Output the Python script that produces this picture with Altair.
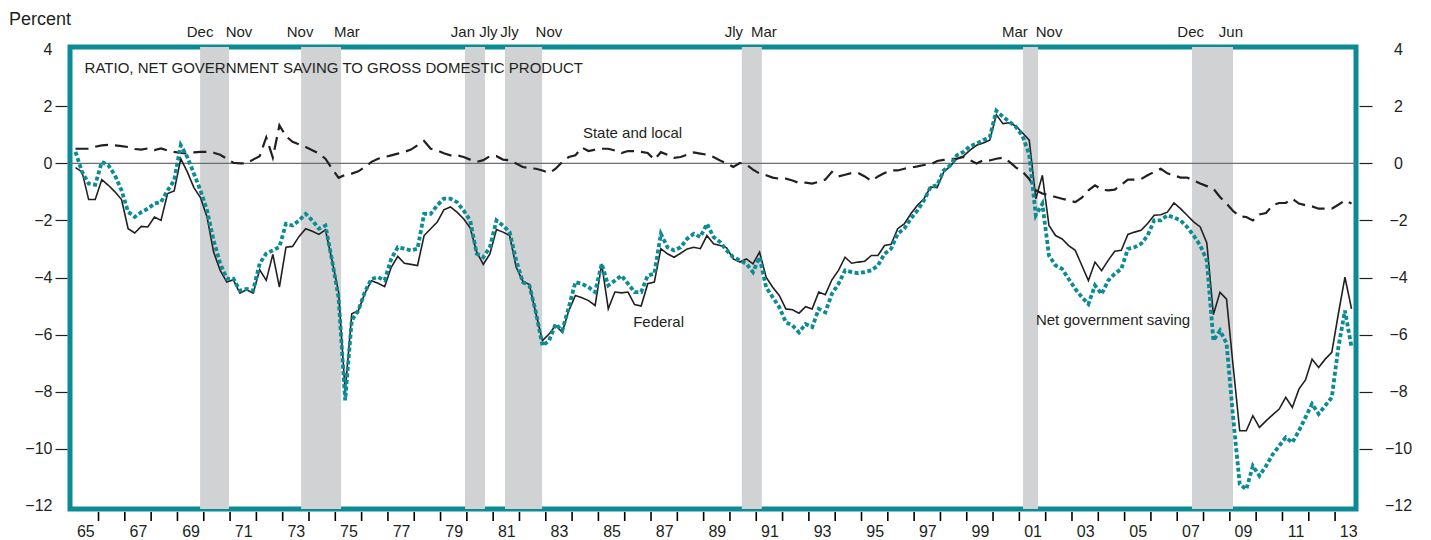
import altair as alt
import pandas as pd

# ---------------- data (quarterly, 1965Q1 - 2013Q3), percent of GDP ----------------
federal = [
    -0.15, -0.30, -1.27, -1.27,   # 1965
    -0.57, -0.77, -1.00, -1.27,   # 1966
    -2.29, -2.44, -2.21, -2.23,   # 1967
    -1.88, -2.00, -1.06, -0.97,   # 1968
    0.16, -0.30, -0.85, -1.20,    # 1969
    -1.88, -3.11, -3.75, -4.16,   # 1970
    -4.08, -4.55, -4.43, -4.55,   # 1971
    -3.73, -4.10, -3.19, -4.34,   # 1972
    -2.94, -2.91, -2.56, -2.29,   # 1973
    -2.38, -2.49, -2.33, -3.40,   # 1974
    -4.51, -8.02, -5.27, -5.16,   # 1975
    -4.55, -4.11, -4.20, -4.32,   # 1976
    -3.64, -3.26, -3.50, -3.54,   # 1977
    -3.58, -2.53, -2.29, -2.06,   # 1978
    -1.63, -1.53, -1.71, -1.94,   # 1979
    -2.26, -3.11, -3.54, -3.17,   # 1980
    -2.32, -2.41, -2.53, -3.64,   # 1981
    -4.13, -4.25, -5.27, -6.21,   # 1982
    -5.98, -5.68, -5.92, -5.16,   # 1983
    -4.63, -4.71, -4.81, -4.98,   # 1984
    -3.52, -5.10, -4.51, -4.54,   # 1985
    -4.51, -4.95, -5.00, -4.22,   # 1986
    -4.16, -2.99, -3.17, -3.29,   # 1987
    -3.15, -3.00, -2.94, -2.99,   # 1988
    -2.53, -2.82, -2.88, -2.96,   # 1989
    -3.35, -3.46, -3.35, -3.52,   # 1990
    -3.11, -3.99, -4.34, -4.63,   # 1991
    -5.10, -5.13, -5.25, -5.02,   # 1992
    -5.10, -4.51, -4.60, -4.08,   # 1993
    -3.75, -3.29, -3.50, -3.46,   # 1994
    -3.43, -3.23, -3.23, -2.88,   # 1995
    -2.84, -2.29, -2.12, -1.77,   # 1996
    -1.47, -1.24, -0.83, -0.85,   # 1997
    -0.30, -0.10, 0.16, 0.25,     # 1998
    0.46, 0.63, 0.71, 0.81,       # 1999
    1.70, 1.39, 1.42, 1.30,       # 2000
    1.06, 0.81, -1.24, -0.42,     # 2001
    -2.18, -2.53, -2.65, -2.88,   # 2002
    -3.05, -3.58, -4.11, -3.46,   # 2003
    -3.76, -3.40, -3.08, -3.05,   # 2004
    -2.49, -2.41, -2.35, -2.11,   # 2005
    -1.82, -1.80, -1.71, -1.39,   # 2006
    -1.59, -1.82, -2.05, -2.23,   # 2007
    -2.79, -5.30, -4.52, -4.76,   # 2008
    -7.10, -9.37, -9.37, -8.84,   # 2009
    -9.25, -9.02, -8.81, -8.61,   # 2010
    -8.20, -8.55, -7.91, -7.59,   # 2011
    -6.86, -7.15, -6.86, -6.62,   # 2012
    -5.27, -3.99, -5.10,          # 2013
]

state_local = [
    0.51, 0.51, 0.51, 0.58,       # 1965
    0.63, 0.65, 0.63, 0.60,       # 1966
    0.57, 0.50, 0.48, 0.52,       # 1967
    0.46, 0.52, 0.45, 0.40,       # 1968
    0.36, 0.34, 0.38, 0.40,       # 1969
    0.40, 0.37, 0.30, 0.16,       # 1970
    0.02, 0.00, 0.00, 0.13,       # 1971
    0.25, 0.91, 0.20, 1.33,       # 1972
    0.95, 0.75, 0.66, 0.57,       # 1973
    0.46, 0.34, 0.16, -0.19,      # 1974
    -0.51, -0.40, -0.36, -0.28,   # 1975
    -0.13, 0.05, 0.16, 0.22,      # 1976
    0.28, 0.34, 0.40, 0.48,       # 1977
    0.63, 0.78, 0.51, 0.45,       # 1978
    0.35, 0.28, 0.28, 0.22,       # 1979
    0.13, 0.05, 0.11, 0.25,       # 1980
    0.25, 0.13, 0.11, -0.01,      # 1981
    -0.13, -0.17, -0.19, -0.25,   # 1982
    -0.34, -0.19, 0.05, 0.22,     # 1983
    0.28, 0.55, 0.43, 0.48,       # 1984
    0.51, 0.51, 0.45, 0.36,       # 1985
    0.43, 0.43, 0.40, 0.36,       # 1986
    0.13, 0.39, 0.30, 0.19,       # 1987
    0.22, 0.30, 0.38, 0.34,       # 1988
    0.30, 0.22, 0.10, 0.00,       # 1989
    -0.13, 0.01, -0.05, -0.22,    # 1990
    -0.36, -0.42, -0.50, -0.54,   # 1991
    -0.54, -0.60, -0.69, -0.68,   # 1992
    -0.71, -0.65, -0.57, -0.30,   # 1993
    -0.46, -0.40, -0.34, -0.34,   # 1994
    -0.46, -0.62, -0.46, -0.34,   # 1995
    -0.25, -0.25, -0.19, -0.15,   # 1996
    -0.11, -0.06, -0.04, 0.08,    # 1997
    0.12, 0.16, 0.16, 0.22,       # 1998
    0.11, -0.01, 0.11, 0.10,      # 1999
    0.16, 0.20, 0.05, -0.15,      # 2000
    -0.30, -0.55, -0.95, -1.06,   # 2001
    -1.12, -1.18, -1.24, -1.30,   # 2002
    -1.36, -1.20, -0.95, -0.77,   # 2003
    -0.92, -0.95, -0.92, -0.75,   # 2004
    -0.57, -0.57, -0.55, -0.42,   # 2005
    -0.30, -0.19, -0.35, -0.42,   # 2006
    -0.50, -0.50, -0.60, -0.71,   # 2007
    -0.80, -0.89, -1.18, -1.41,   # 2008
    -1.67, -1.86, -1.88, -2.00,   # 2009
    -1.79, -1.74, -1.47, -1.39,   # 2010
    -1.39, -1.24, -1.41, -1.47,   # 2011
    -1.51, -1.59, -1.59, -1.59,   # 2012
    -1.45, -1.30, -1.41,          # 2013
]

net_saving = [
    0.40, -0.30, -0.71, -0.75,    # 1965
    0.05, -0.07, -0.42, -0.95,    # 1966
    -1.70, -1.88, -1.71, -1.59,   # 1967
    -1.41, -1.36, -0.95, -0.60,   # 1968
    0.63, 0.22, -0.36, -0.95,     # 1969
    -1.65, -2.70, -3.51, -4.04,   # 1970
    -4.04, -4.46, -4.40, -4.46,   # 1971
    -3.51, -3.16, -3.05, -2.93,   # 1972
    -2.12, -2.18, -2.00, -1.77,   # 1973
    -2.00, -2.29, -2.18, -3.40,   # 1974
    -4.70, -8.30, -5.50, -5.16,   # 1975
    -4.50, -4.05, -3.99, -4.10,   # 1976
    -3.35, -2.94, -2.99, -3.05,   # 1977
    -2.99, -1.77, -1.77, -1.47,   # 1978
    -1.24, -1.24, -1.36, -1.65,   # 1979
    -2.00, -3.17, -3.29, -2.94,   # 1980
    -2.00, -2.18, -2.41, -3.40,   # 1981
    -4.16, -4.28, -5.22, -6.39,   # 1982
    -6.21, -5.63, -5.86, -5.04,   # 1983
    -4.16, -4.22, -4.34, -4.51,   # 1984
    -3.52, -4.28, -4.11, -3.93,   # 1985
    -4.22, -4.51, -4.51, -3.93,   # 1986
    -3.87, -2.47, -2.94, -3.05,   # 1987
    -2.94, -2.64, -2.47, -2.58,   # 1988
    -2.12, -2.58, -2.76, -3.05,   # 1989
    -3.29, -3.40, -3.52, -3.81,   # 1990
    -3.29, -4.34, -4.69, -5.04,   # 1991
    -5.57, -5.68, -5.92, -5.63,   # 1992
    -5.74, -5.10, -5.22, -4.57,   # 1993
    -4.22, -3.75, -3.81, -3.85,   # 1994
    -3.81, -3.75, -3.58, -3.17,   # 1995
    -2.99, -2.47, -2.29, -1.94,   # 1996
    -1.65, -1.30, -0.83, -0.77,   # 1997
    -0.25, -0.07, 0.28, 0.40,     # 1998
    0.60, 0.69, 0.81, 0.92,       # 1999
    1.84, 1.63, 1.45, 1.27,       # 2000
    0.95, 0.30, -1.82, -1.42,     # 2001
    -3.23, -3.58, -3.70, -4.05,   # 2002
    -4.40, -4.69, -4.93, -4.28,   # 2003
    -4.58, -4.11, -3.87, -3.70,   # 2004
    -3.00, -2.94, -2.82, -2.53,   # 2005
    -2.00, -2.00, -1.82, -1.90,   # 2006
    -2.00, -2.23, -2.53, -2.88,   # 2007
    -3.40, -6.21, -5.86, -6.30,   # 2008
    -8.90, -11.24, -11.42, -10.60,  # 2009
    -10.95, -10.60, -10.20, -9.90,  # 2010
    -9.60, -9.78, -9.37, -8.90,   # 2011
    -8.43, -8.78, -8.49, -8.20,   # 2012
    -6.44, -5.16, -6.44,          # 2013
]

# recession shading (decimal years as drawn) and month labels above the frame
rec_start = [1969.86, 1973.70, 1979.93, 1981.45, 1990.45, 2001.14, 2007.56]
rec_end = [1970.96, 1975.22, 1980.69, 1982.86, 1991.21, 2001.71, 2009.12]
month_labels = ["Dec", "Nov", "Nov", "Mar", "Jan", "Jly", "Jly", "Nov",
                "Jly", "Mar", "Mar", "Nov", "Dec", "Jun"]
month_label_x = [1969.86, 1971.34, 1973.66, 1975.44, 1979.85, 1980.82, 1981.62,
                 1983.12, 1990.15, 1991.29, 2000.83, 2002.13, 2007.51, 2009.04]

y_ticks = [4, 2, 0, -2, -4, -6, -8, -10, -12]
x_year_ticks = list(range(1966, 2014))
x_label_pos = [y + 0.5 for y in range(1965, 2014, 2)]

series_labels = ["State and local", "Federal", "Net government saving"]
series_label_x = [1984.41, 1986.32, 2001.63]
series_label_y = [0.89, -5.73, -5.66]

# ---------------- build tables ----------------
quarter_t = [1965 + (i + 0.5) / 4 for i in range(len(federal))]
df = pd.DataFrame({"t": quarter_t, "federal": federal,
                   "state": state_local, "net": net_saving})
df_rec = pd.DataFrame({"start": rec_start, "end": rec_end})
df_mon = pd.DataFrame({"x": month_label_x, "label": month_labels})
df_lab = pd.DataFrame({"x": series_label_x, "y": series_label_y, "label": series_labels})
df_zero = pd.DataFrame({"y": [0]})
df_yt = pd.DataFrame({"yr": x_year_ticks})
df_title = pd.DataFrame({"x": [1965.47], "y": [3.16],
                         "label": ["RATIO, NET GOVERNMENT SAVING TO GROSS DOMESTIC PRODUCT"]})

TEAL = "#0b8b95"
INK = "#231f20"
FONT = "Liberation Sans"
PLOT_H = 462

xscale = alt.Scale(domain=[1964.916, 2013.795], nice=False, zero=False)
yscale = alt.Scale(domain=[-12.109, 4.074], nice=False, zero=False)

y_tick_op = {"condition": {"test": "datum.value == 4 || datum.value == -12", "value": 0}, "value": 1}

# two-digit year labels centred in odd years (axis ticks hidden; year ticks drawn as rules)
x_label_axis = alt.Axis(values=x_label_pos, orient="bottom", offset=3, tickSize=8,
                        tickOpacity=0,
                        labelExpr="slice('0' + (floor(datum.value) % 100), -2)",
                        labelPadding=3, labelFontSize=16, labelFont=FONT, labelColor=INK,
                        labelOverlap=False, labelFlush=False, domain=False, grid=False, title=None)
left_axis = alt.Axis(values=y_ticks, orient="left", offset=3, tickSize=12, tickWidth=1.2,
                     tickColor=INK, tickOpacity=y_tick_op, format="d",
                     labelPadding=3, labelFontSize=16, labelFont=FONT, labelColor=INK,
                     labelOverlap=False, labelFlush=False, domain=False, grid=False, title=None)
right_axis = alt.Axis(values=y_ticks, orient="right", offset=3, tickSize=13, tickWidth=1.2,
                      tickColor=INK, tickOpacity=y_tick_op, format="d",
                      labelPadding=26, labelAlign="center", labelFontSize=16, labelFont=FONT,
                      labelColor=INK, labelOverlap=False, labelFlush=False,
                      domain=False, grid=False, title=None)

bands = alt.Chart(df_rec).mark_rect(color="#d1d2d4").encode(
    x=alt.X("start:Q", scale=xscale, axis=None), x2="end:Q")

zero = alt.Chart(df_zero).mark_rule(color="#6d6e71", strokeWidth=1.2).encode(
    y=alt.Y("y:Q", scale=yscale, axis=right_axis))

year_ticks = alt.Chart(df_yt).mark_rule(color="#000000", strokeWidth=1.6, opacity=1).encode(
    x=alt.X("yr:Q", scale=xscale, axis=None),
    y=alt.value(PLOT_H + 3), y2=alt.value(PLOT_H + 12))

state_line = alt.Chart(df).mark_line(color=INK, strokeWidth=2.2, strokeDash=[13, 7]).encode(
    x=alt.X("t:Q", scale=xscale, axis=None),
    y=alt.Y("state:Q", scale=yscale, axis=None))

fed_line = alt.Chart(df).mark_line(color=INK, strokeWidth=1.6).encode(
    x=alt.X("t:Q", scale=xscale, axis=x_label_axis),
    y=alt.Y("federal:Q", scale=yscale, axis=left_axis))

net_line = alt.Chart(df).mark_line(color=TEAL, strokeWidth=3.8, strokeDash=[4, 2.5]).encode(
    x=alt.X("t:Q", scale=xscale, axis=None),
    y=alt.Y("net:Q", scale=yscale, axis=None))

title_txt = alt.Chart(df_title).mark_text(align="left", baseline="alphabetic", font=FONT,
                                          fontSize=15, color=INK).encode(
    x=alt.X("x:Q", scale=xscale, axis=None), y=alt.Y("y:Q", scale=yscale, axis=None),
    text="label:N")

series_txt = alt.Chart(df_lab).mark_text(align="left", baseline="alphabetic", font=FONT,
                                         fontSize=15, color=INK).encode(
    x=alt.X("x:Q", scale=xscale, axis=None), y=alt.Y("y:Q", scale=yscale, axis=None),
    text="label:N")

month_txt = alt.Chart(df_mon).mark_text(align="center", baseline="alphabetic", font=FONT,
                                        fontSize=15, color=INK).encode(
    x=alt.X("x:Q", scale=xscale, axis=None), y=alt.value(-10), text="label:N")

percent_txt = alt.Chart(df_zero).mark_text(align="left", baseline="alphabetic", font=FONT,
                                           fontSize=18, color=INK, text="Percent").encode(
    x=alt.value(-61), y=alt.value(-22))

chart = alt.layer(
    bands, zero, year_ticks, state_line, fed_line, net_line,
    title_txt, series_txt, month_txt, percent_txt
).resolve_scale(x="shared", y="shared").resolve_axis(x="independent", y="independent").properties(
    width=1286, height=PLOT_H,
    autosize=alt.AutoSizeParams(type="none"),
    padding={"left": 62, "top": 39, "right": 60, "bottom": 30},
    background="white",
).configure_view(stroke=TEAL, strokeWidth=5)

chart.save("out.html", embed_options={"renderer": "svg", "actions": False})
